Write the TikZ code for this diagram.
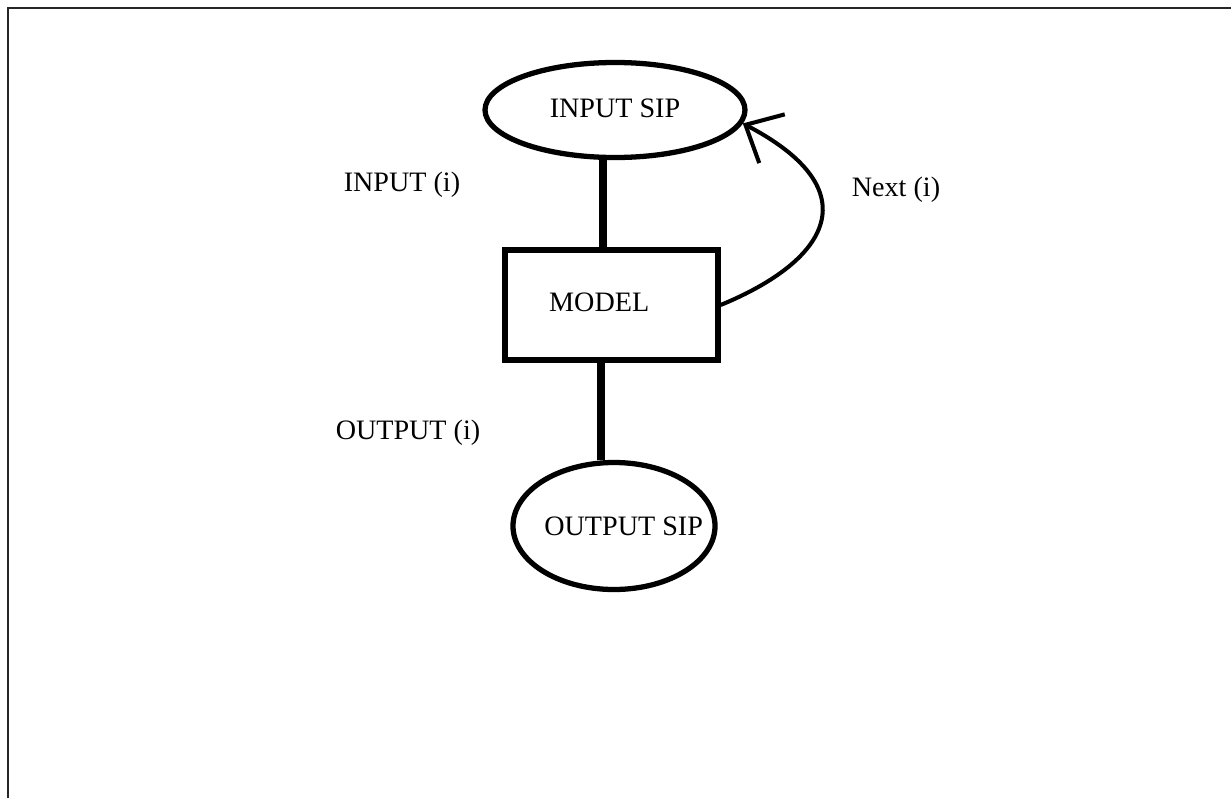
\documentclass[tikz,border=0pt]{standalone}
\usepackage{fontspec}
\setmainfont{Liberation Serif}
\usetikzlibrary{arrows.meta, positioning, shapes.geometric}

\begin{document}
\begin{tikzpicture}[
  every node/.style={font=\fontsize{16}{19}\selectfont},
  sip/.style={draw, ellipse, line width=3pt, inner sep=0pt},
  block/.style={draw, rectangle, line width=3pt, minimum width=4.26cm, minimum height=2.2cm},
  link/.style={line width=4pt},
  nextarrow/.style={-{Straight Barb[length=0.6cm, width=1.1cm]}, line width=2.3pt},
  label/.style={inner sep=1pt}
]
  \useasboundingbox (0,0) rectangle (24.62,-15.96);
  % frame (top and left only)
  \draw[line width=1.2pt, black!85] (0.16,-15.96) -- (0.16,-0.16) -- (24.62,-0.16);

  % blocks
  \node[sip, minimum width=5.2cm, minimum height=1.9cm] (insip) at (12.3,-2.2) {\raisebox{2pt}{INPUT SIP}};
  \node[block] (model) at (12.23,-6.1) {\raisebox{3pt}{MODEL}\hspace*{14pt}};
  \node[sip, minimum width=4.04cm, minimum height=2.54cm] (outsip) at (12.28,-10.52) {\makebox[0pt]{\hspace*{11pt}OUTPUT SIP}};

  % labels
  \node[label] (inlab) at (8.04,-3.7) {INPUT (i)};
  \node[label] (outlab) at (8.16,-8.66) {OUTPUT (i)};
  \node[label] (nextlab) at (17.92,-3.8) {Next (i)};

  % connectors
  \draw[link] (insip.south -| 12.06,0) -- (model.north -| 12.06,0);
  \draw[link] (model.south -| 12.02,0) -- (outsip.north -| 12.02,0);
  \draw[nextarrow] (model.east) .. controls (16.6,-5.2) and (17.4,-3.8) .. (insip.-6);

\end{tikzpicture}
\end{document}
